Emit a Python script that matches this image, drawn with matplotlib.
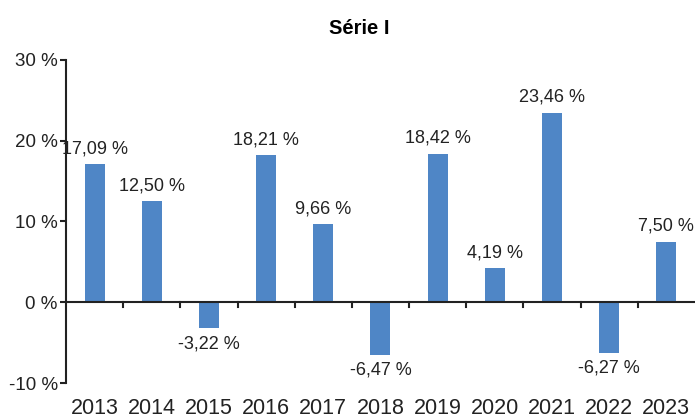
import numpy as np
import matplotlib.pyplot as plt

plt.rcParams['font.family'] = ['Liberation Sans', 'DejaVu Sans']

years = ['2013', '2014', '2015', '2016', '2017', '2018', '2019', '2020', '2021', '2022', '2023']
values = [17.09, 12.50, -3.22, 18.21, 9.66, -6.47, 18.42, 4.19, 23.46, -6.27, 7.50]
yticks = [-10, 0, 10, 20, 30]

fig = plt.figure(figsize=(6.97, 4.18), dpi=100)
ax = fig.add_axes([0.0947, 0.0837, 0.9023, 0.7728])

x = np.arange(len(years))
ax.bar(x, values, width=0.35, color='#4F86C6', zorder=2)

# value labels above / below bars
for xi, v in zip(x, values):
    txt = f'{v:.2f}'.replace('.', ',') + ' %'
    if v >= 0:
        ax.annotate(txt, (xi, v), xytext=(0, 5), textcoords='offset points',
                    ha='center', va='bottom', fontsize=13, color='#222222')
    else:
        ax.annotate(txt, (xi, v), xytext=(0, -5), textcoords='offset points',
                    ha='center', va='top', fontsize=13, color='#222222')

ax.set_xlim(-0.5, len(years) - 0.5)
ax.set_ylim(-10, 30)
ax.set_yticks(yticks)
ax.set_yticklabels([f'{t} %' for t in yticks], fontsize=13.5, color='#222222')
ax.tick_params(axis='y', direction='out', length=4, width=1.5, pad=2, color='#222222')

# year labels at the bottom, tick marks on the zero line between bars
ax.set_xticks([])
for xi, yr in zip(x, years):
    ax.annotate(yr, (xi, -10), xytext=(0, -11), textcoords='offset points',
                ha='center', va='top', fontsize=15.5, color='#222222',
                annotation_clip=False)
for b in np.arange(0.5, len(years) - 0.5, 1):
    ax.plot([b, b], [0, -0.6], color='#222222', lw=1.5, zorder=3, clip_on=False)
ax.axhline(0, color='#222222', lw=1.5, zorder=3)

for s in ['top', 'right', 'bottom']:
    ax.spines[s].set_visible(False)
ax.spines['left'].set_linewidth(1.5)
ax.spines['left'].set_color('#222222')

fig.suptitle('Série I', fontsize=14.5, fontweight='bold', y=0.955, x=0.515)

plt.savefig('out.png', dpi=100)
